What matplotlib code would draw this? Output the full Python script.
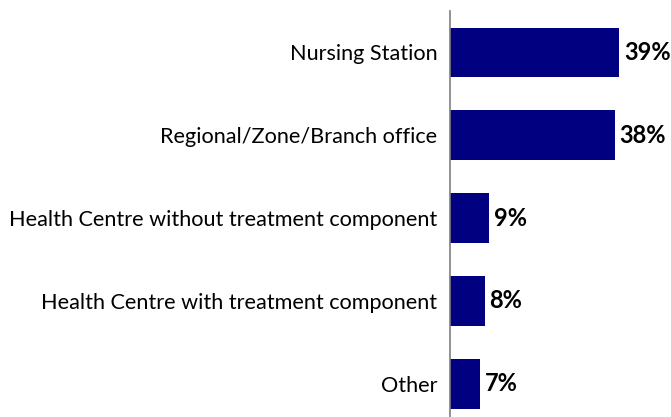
import matplotlib
matplotlib.use("Agg")
from matplotlib import pyplot as plt

categories = [
    "Nursing Station",
    "Regional/Zone/Branch office",
    "Health Centre without treatment component",
    "Health Centre with treatment component",
    "Other",
]
values = [39, 38, 9, 8, 7]
value_labels = ["39%", "38%", "9%", "8%", "7%"]

plt.rcParams["font.family"] = ["Lato", "DejaVu Sans"]

fig = plt.figure(figsize=(6.71, 4.17), dpi=100)
ax = fig.add_axes([450 / 671, 0, 216.7 / 671, 406 / 417])

y = range(len(categories))
ax.barh(y, values, height=0.6, color="#000080")

for yi, v, lab in zip(y, values, value_labels):
    ax.text(v + 1.1, yi, lab, va="center", ha="left", fontsize=17, fontweight="bold")

ax.set_xlim(0, 50)
ax.set_ylim(4.4, -0.5)
ax.set_yticks(list(y))
ax.set_yticklabels(categories, fontsize=15.6)
ax.tick_params(axis="y", length=0, pad=9)
ax.set_xticks([])

for side in ["top", "right", "bottom"]:
    ax.spines[side].set_visible(False)
ax.spines["left"].set_color("#7f7f7f")
ax.spines["left"].set_linewidth(1.2)

fig.savefig("out.png", dpi=100)
plt.close(fig)
